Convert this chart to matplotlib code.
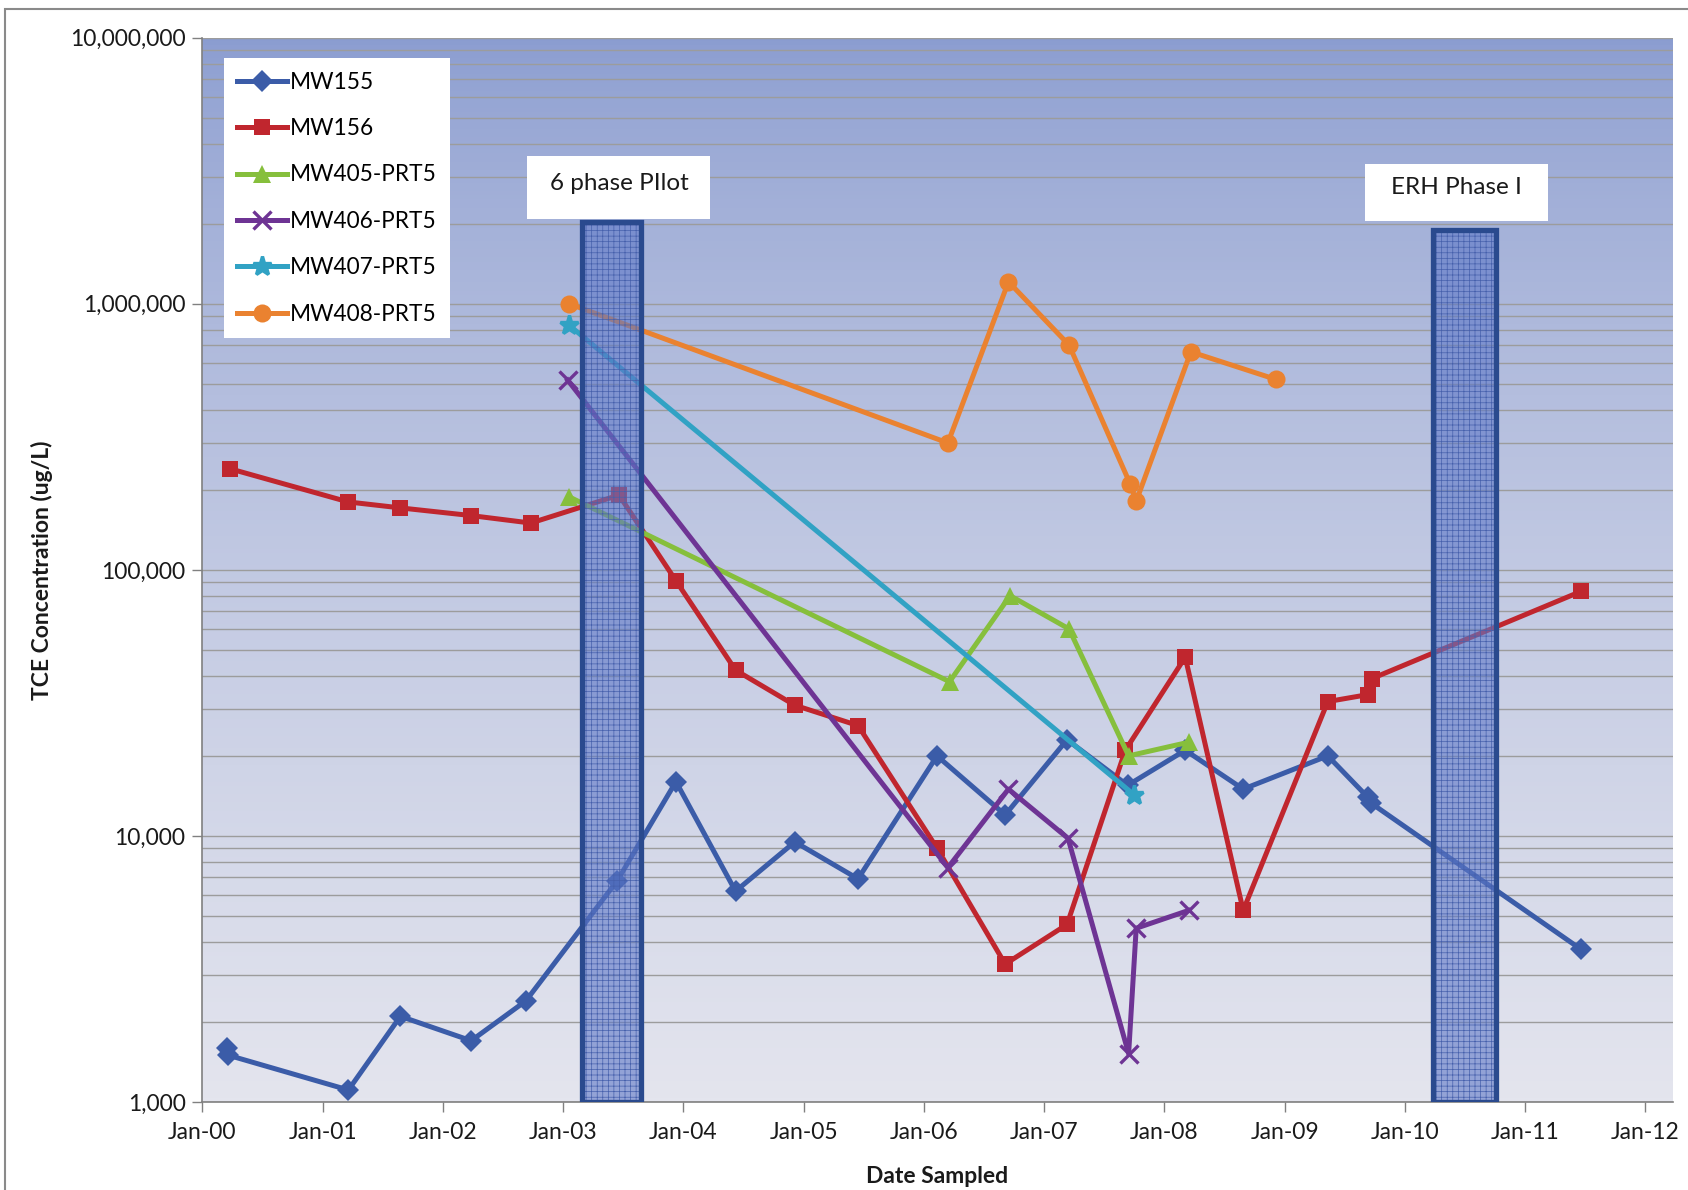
import numpy as np
import pandas as pd
import matplotlib
matplotlib.use("Agg")
import matplotlib.pyplot as plt
import matplotlib.dates as mdates
from matplotlib.patches import Rectangle
from matplotlib.ticker import FuncFormatter, LogLocator

plt.rcParams['font.family'] = ['Lato', 'DejaVu Sans']
plt.rcParams['hatch.linewidth'] = 0.5

# --- data ---
mw155_dates = ["2000-03-15", "2000-03-20", "2001-03-20", "2001-08-25", "2002-03-28", "2002-09-10",
               "2003-06-15", "2003-12-10", "2004-06-08", "2004-12-05", "2005-06-15", "2006-02-10",
               "2006-09-05", "2007-03-12", "2007-09-12", "2008-03-05", "2008-08-28", "2009-05-12",
               "2009-09-10", "2009-09-20", "2011-06-20"]
mw155_vals = [1600, 1500, 1110, 2100, 1700, 2400, 6800, 16000, 6200, 9500, 6900, 20000,
              12000, 23000, 15500, 21000, 15000, 20000, 14000, 13300, 3750]

mw156_dates = ["2000-03-25", "2001-03-20", "2001-08-25", "2002-03-28", "2002-09-25", "2003-06-20",
               "2003-12-10", "2004-06-08", "2004-12-05", "2005-06-15", "2006-02-10", "2006-09-05",
               "2007-03-12", "2007-09-05", "2008-03-05", "2008-08-28", "2009-05-12", "2009-09-12",
               "2009-09-22", "2011-06-20"]
mw156_vals = [240000, 180000, 171000, 160000, 150000, 191000, 91000, 42000, 31000, 26000, 9000,
              3300, 4650, 21000, 47000, 5250, 32000, 34000, 39000, 83000]

mw405_dates = ["2003-01-20", "2006-03-20", "2006-09-20", "2007-03-18", "2007-09-15", "2008-03-15"]
mw405_vals = [188000, 38000, 80000, 60000, 20000, 22500]

mw406_dates = ["2003-01-15", "2006-03-15", "2006-09-15", "2007-03-15", "2007-09-15", "2007-10-08",
               "2008-03-15"]
mw406_vals = [517000, 7600, 15000, 9800, 1520, 4500, 5250]

mw407_dates = ["2003-01-20", "2007-10-01"]
mw407_vals = [830000, 14300]

mw408_dates = ["2003-01-20", "2006-03-15", "2006-09-15", "2007-03-18", "2007-09-20", "2007-10-08",
               "2008-03-22", "2008-12-05"]
mw408_vals = [1000000, 300000, 1210000, 700000, 210000, 181000, 660000, 520000]

phase_names = ["6 phase PIlot", "ERH Phase I"]
phase_start = ["2003-02-28", "2010-03-28"]
phase_end = ["2003-08-25", "2010-10-05"]
phase_top = [2030000, 1900000]

year_ticks = pd.date_range("2000-01-01", "2012-01-01", freq="YS")

series = [
    ("MW155", mw155_dates, mw155_vals, "#3b5ca8", "D", 11),
    ("MW156", mw156_dates, mw156_vals, "#c0262e", "s", 12),
    ("MW405-PRT5", mw405_dates, mw405_vals, "#86bf3c", "^", 13),
    ("MW406-PRT5", mw406_dates, mw406_vals, "#6e3494", "x", 13),
    ("MW407-PRT5", mw407_dates, mw407_vals, "#31a2c4", "*", 14),
    ("MW408-PRT5", mw408_dates, mw408_vals, "#ea8230", "o", 13),
]

fig = plt.figure(figsize=(16.88, 11.90), dpi=100)
ax = fig.add_axes([0.1198, 0.0739, 0.8712, 0.8944])

# background gradient (row 0 = top)
grad = np.linspace(0, 1, 256).reshape(-1, 1)
top_c = np.array([138, 156, 208]) / 255
bot_c = np.array([228, 229, 238]) / 255
w = np.clip(grad ** 0.7, 0, 1)
img = (top_c * (1 - w) + bot_c * w).reshape(256, 1, 3)
ax.imshow(img, extent=[0, 1, 0, 1], transform=ax.transAxes, aspect='auto', zorder=0)

ax.set_yscale('log')
ax.set_ylim(1000, 10000000)
ax.set_xlim(mdates.date2num(pd.Timestamp("2000-01-01")), mdates.date2num(pd.Timestamp("2012-03-25")))

ax.yaxis.set_major_locator(LogLocator(base=10, numticks=10))
ax.yaxis.set_minor_locator(LogLocator(base=10, subs=np.arange(2, 10), numticks=20))
ax.yaxis.set_major_formatter(FuncFormatter(lambda v, p: f"{v:,.0f}"))
ax.yaxis.set_minor_formatter(FuncFormatter(lambda v, p: ""))
ax.grid(True, which='both', axis='y', color='#9c9c9c', lw=1.0, zorder=1)
ax.set_axisbelow(True)

for name, d, v, c, m, ms in series:
    x = mdates.date2num(pd.to_datetime(d))
    kw = dict(mew=2.4) if m in ("x", "*") else dict(mew=0)
    ax.plot(x, v, color=c, lw=3.6, marker=m, ms=ms, mfc=c, mec=c, label=name, zorder=3, **kw)

# phase bars
for s, e, t in zip(phase_start, phase_end, phase_top):
    x0 = mdates.date2num(pd.Timestamp(s))
    x1 = mdates.date2num(pd.Timestamp(e))
    ax.bar(x0, t - 1000, bottom=1000, width=x1 - x0, align='edge',
           color='#5e78c8', alpha=0.6, edgecolor='none', zorder=4)
    ax.bar(x0, t - 1000, bottom=1000, width=x1 - x0, align='edge',
           color='none', edgecolor='#4660ac', hatch='+++', lw=0, zorder=4)
    ax.bar(x0, t - 1000, bottom=1000, width=x1 - x0, align='edge',
           color='none', edgecolor='#2a4a8e', lw=3.8, zorder=5)

# phase label boxes
box_pos = [(0.2211, 0.8301, 0.1245, 0.0587), (0.7906, 0.8281, 0.1245, 0.0536)]
for name, (bx, by, bw, bh) in zip(phase_names, box_pos):
    ax.add_patch(Rectangle((bx, by), bw, bh, transform=ax.transAxes,
                           facecolor='white', edgecolor='none', zorder=6))
    ax.text(bx + bw / 2, by + bh / 2 + 0.004, name, transform=ax.transAxes,
            ha='center', va='center', fontsize=17.5, color='#1a1a1a', zorder=7)

ax.set_xticks(mdates.date2num(year_ticks))
ax.set_xticklabels([t.strftime("Jan-%y") for t in year_ticks])
ax.tick_params(axis='x', which='major', length=7, width=1, color='#808080',
               labelsize=16.5, pad=7, labelcolor='#1a1a1a')
ax.tick_params(axis='y', which='major', length=7, width=1, color='#808080',
               labelsize=16.5, pad=5, labelcolor='#1a1a1a')
ax.tick_params(axis='y', which='minor', length=0)

for side in ('top', 'right'):
    ax.spines[side].set_visible(False)
for side in ('left', 'bottom'):
    ax.spines[side].set_color('#808080')
    ax.spines[side].set_linewidth(1.2)

ax.set_ylabel("TCE Concentration (ug/L)", fontsize=16.5, fontweight='bold', color='#1a1a1a')
ax.yaxis.set_label_coords(-0.1015, 0.5)
ax.set_xlabel("Date Sampled", fontsize=16.5, fontweight='bold', color='#1a1a1a')
ax.xaxis.set_label_coords(0.5, -0.06)

leg = ax.legend(loc='upper left', bbox_to_anchor=(0.0146, 0.9808), fontsize=16.3,
                frameon=True, fancybox=False, edgecolor='none', facecolor='white',
                framealpha=1.0, handlelength=2.2, handletextpad=0.12, labelspacing=1.12,
                borderpad=0.6, borderaxespad=0)
leg.set_zorder(8)

fig.patches.append(Rectangle((0.0032, -0.05), 1.2, 0.9928 + 0.05, transform=fig.transFigure,
                             fill=False, edgecolor='#8a8a8a', lw=1.5))

fig.savefig("out.png", dpi=100, facecolor='white')
